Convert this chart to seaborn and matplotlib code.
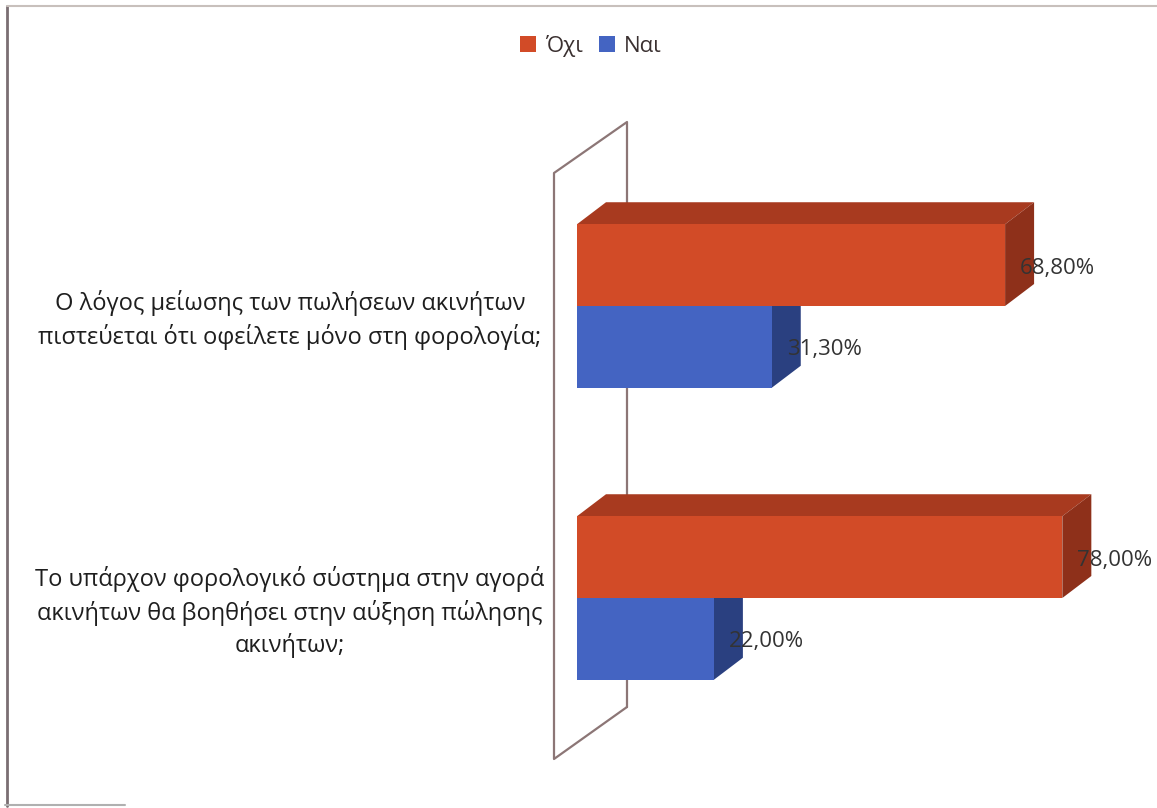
import matplotlib
matplotlib.use("Agg")
import matplotlib.pyplot as plt
from matplotlib.patches import Polygon, Patch
from matplotlib.lines import Line2D
from matplotlib.transforms import IdentityTransform, ScaledTranslation, blended_transform_factory
import pandas as pd
import seaborn as sns

# Survey answers (percent of respondents)
questions = [
    "Ο λόγος μείωσης των πωλήσεων ακινήτων\nπιστεύεται ότι οφείλετε μόνο στη φορολογία;",
    "Το υπάρχον φορολογικό σύστημα στην αγορά\nακινήτων θα βοηθήσει στην αύξηση πώλησης\nακινήτων;",
]
answers = ["Όχι", "Ναι"]
no_values = [68.80, 78.00]
yes_values = [31.30, 22.00]

front_colors = {"Όχι": "#D24B27", "Ναι": "#4464C2"}
top_colors = {"Όχι": "#A83A1F", "Ναι": "#34509E"}
side_colors = {"Όχι": "#8E301A", "Ναι": "#2A4080"}

sns.set_theme(style="white")
plt.rcParams["font.family"] = ["Open Sans", "DejaVu Sans"]

df = pd.DataFrame({
    "question": questions * 2,
    "answer": [answers[0]] * 2 + [answers[1]] * 2,
    "value": no_values + yes_values,
})

W, H = 1157, 808
fig = plt.figure(figsize=(W / 100, H / 100), dpi=100)
fig.patch.set_facecolor("white")
ax = fig.add_axes([577 / W, 64 / H, 560 / W, 584 / H])

sns.barplot(data=df, y="question", x="value", hue="answer", hue_order=answers,
            order=questions, palette=[front_colors[a] for a in answers],
            width=0.56, orient="h", ax=ax, legend=False, saturation=1)

ax.set_xlim(0, 90)
ax.set_ylim(1.5, -0.5)
for s in ax.spines.values():
    s.set_visible(False)
ax.set_xticks([])
ax.set_yticks([])
ax.set_xlabel("")
ax.set_ylabel("")
ax.patch.set_alpha(0)

# depth offset of the 3D extrusion, in pixels
DX, DY = 29, 22

n_q = len(questions)
bars = ax.patches[: n_q * len(answers)]
for i, bar in enumerate(bars):
    answer = answers[i // n_q]
    x0, y0 = bar.get_x(), bar.get_y()
    w, h = bar.get_width(), bar.get_height()
    (lx, by), (rx, ty) = ax.transData.transform([(x0, y0 + h), (x0 + w, y0)])
    base_z = 3 if answer == "Όχι" else 1.5
    bar.set_zorder(base_z + 0.2)
    bar.set_edgecolor("none")
    top = Polygon([(lx, ty), (rx, ty), (rx + DX, ty + DY), (lx + DX, ty + DY)],
                  closed=True, facecolor=top_colors[answer], edgecolor="none",
                  transform=IdentityTransform(), zorder=base_z, clip_on=False)
    side = Polygon([(rx, by), (rx + DX, by + DY), (rx + DX, ty + DY), (rx, ty)],
                   closed=True, facecolor=side_colors[answer], edgecolor="none",
                   transform=IdentityTransform(), zorder=base_z, clip_on=False)
    ax.add_artist(top)
    ax.add_artist(side)
    v = x0 + w
    label = f"{v:.2f}%".replace(".", ",")
    ax.annotate(label, xy=(v, y0 + h / 2), xytext=(15, -3), textcoords="offset pixels",
                ha="left", va="center", fontsize=16, color="#333333", zorder=6,
                annotation_clip=False)

# back wall of the 3D plot, drawn beside the zero line
(zx, _), = ax.transData.transform([(0, 0)])
fx = zx - 23
bx = zx + 50
wall = Line2D([bx, fx, fx, bx, bx],
              [H - 707, H - 759, H - 173, H - 122, H - 707],
              transform=IdentityTransform(), color="#8C7676", lw=1.6, zorder=0.5,
              clip_on=False)
ax.add_artist(wall)

# category labels left of the plot
trans = blended_transform_factory(fig.transFigure, ax.transData) + ScaledTranslation(0, -14 / 100, fig.dpi_scale_trans)
for i, q in enumerate(questions):
    ax.text(290 / W, i, q, transform=trans, ha="center", va="center",
            multialignment="center", fontsize=17, color="#1e1e1e", linespacing=1.38)

# legend
handles = [Patch(facecolor=front_colors[a], edgecolor="none", label=a) for a in answers]
fig.legend(handles=handles, loc="center", bbox_to_anchor=(591 / W, 1 - 46 / H), ncol=2,
           frameon=False, fontsize=16, handlelength=0.7, handleheight=0.7,
           handletextpad=0.4, columnspacing=0.75, labelcolor="#3a3030")

# outer frame
fig.add_artist(Line2D([7, 7], [2, H - 6], transform=IdentityTransform(), color="#7a6e72", lw=2))
fig.add_artist(Line2D([7, W], [H - 6, H - 6], transform=IdentityTransform(), color="#c8c0bc", lw=1.5))
fig.add_artist(Line2D([5, 125], [3, 3], transform=IdentityTransform(), color="#b0b0b0", lw=1.5))

fig.savefig("out.png", dpi=100, facecolor="white")
